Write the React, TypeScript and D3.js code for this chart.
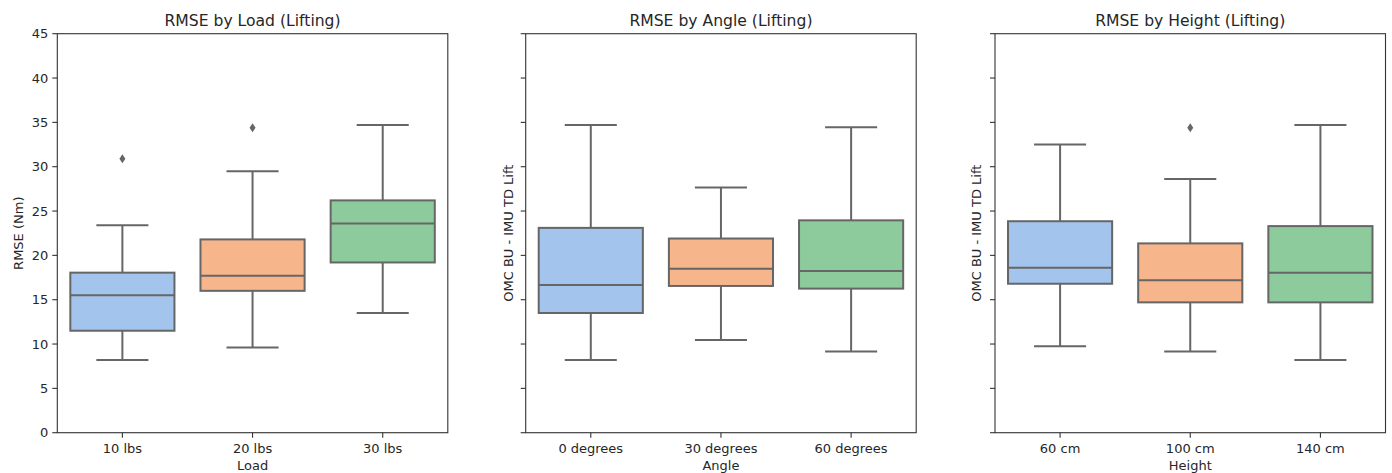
import React from "react";
import * as d3 from "d3";

const loadCategories = ["10 lbs", "20 lbs", "30 lbs"];
const loadLow = [8.2, 9.6, 13.5];
const loadQ1 = [11.5, 16.0, 19.2];
const loadMedian = [15.5, 17.7, 23.6];
const loadQ3 = [18.05, 21.8, 26.2];
const loadHigh = [23.4, 29.5, 34.7];
const loadOutliers = [[30.9], [34.4], []];

const angleCategories = ["0 degrees", "30 degrees", "60 degrees"];
const angleLow = [8.2, 10.45, 9.17];
const angleQ1 = [13.5, 16.55, 16.25];
const angleMedian = [16.65, 18.5, 18.25];
const angleQ3 = [23.1, 21.9, 23.95];
const angleHigh = [34.7, 27.65, 34.45];
const angleOutliers = [[], [], []];

const heightCategories = ["60 cm", "100 cm", "140 cm"];
const heightLow = [9.75, 9.17, 8.2];
const heightQ1 = [16.8, 14.7, 14.7];
const heightMedian = [18.6, 17.2, 18.05];
const heightQ3 = [23.85, 21.35, 23.3];
const heightHigh = [32.5, 28.6, 34.7];
const heightOutliers = [[], [34.4], []];

const yTicks = [0, 5, 10, 15, 20, 25, 30, 35, 40, 45];
const colors = ["#a3c4ec", "#f7b58c", "#8dcb9d"];
const lineColor = "#666666";
const font = "DejaVu Sans, sans-serif";

const panels = [
  {
    title: "RMSE by Load (Lifting)", xLabel: "Load", yLabel: "RMSE (Nm)", showYTickLabels: true,
    cats: loadCategories, low: loadLow, q1: loadQ1, med: loadMedian, q3: loadQ3, high: loadHigh, out: loadOutliers,
    left: 57.3, yLabelX: 23,
  },
  {
    title: "RMSE by Angle (Lifting)", xLabel: "Angle", yLabel: "OMC BU - IMU TD Lift", showYTickLabels: false,
    cats: angleCategories, low: angleLow, q1: angleQ1, med: angleMedian, q3: angleQ3, high: angleHigh, out: angleOutliers,
    left: 525.7, yLabelX: 512.5,
  },
  {
    title: "RMSE by Height (Lifting)", xLabel: "Height", yLabel: "OMC BU - IMU TD Lift", showYTickLabels: false,
    cats: heightCategories, low: heightLow, q1: heightQ1, med: heightMedian, q3: heightQ3, high: heightHigh, out: heightOutliers,
    left: 995, yLabelX: 980.7,
  },
];

const TOP = 33.7;
const BOTTOM = 432.7;
const WIDTH = 390.5;

export default function App() {
  const y = d3.scaleLinear().domain([0, 45]).range([BOTTOM, TOP]);
  return (
    <svg width={1392} height={473} style={{ position: "absolute", left: 0, top: 0, background: "#fff" }} fontFamily={font}>
      <rect x={0} y={0} width={1392} height={473} fill="#fff" />
      {panels.map((p, pi) => {
        const x = d3.scaleBand().domain(p.cats).range([p.left, p.left + WIDTH]).padding(0);
        const bw = x.bandwidth() * 0.8;
        const cx = (c: string) => (x(c) as number) + x.bandwidth() / 2;
        return (
          <g key={pi}>
            {p.cats.map((c, i) => {
              const xc = cx(c);
              const capW = bw / 2;
              return (
                <g key={c} stroke={lineColor} strokeWidth={2} fill="none">
                  <line x1={xc} x2={xc} y1={y(p.q1[i])} y2={y(p.low[i])} />
                  <line x1={xc} x2={xc} y1={y(p.q3[i])} y2={y(p.high[i])} />
                  <line x1={xc - capW / 2} x2={xc + capW / 2} y1={y(p.low[i])} y2={y(p.low[i])} />
                  <line x1={xc - capW / 2} x2={xc + capW / 2} y1={y(p.high[i])} y2={y(p.high[i])} />
                  <rect x={xc - bw / 2} width={bw} y={y(p.q3[i])} height={y(p.q1[i]) - y(p.q3[i])} fill={colors[i]} />
                  <line x1={xc - bw / 2} x2={xc + bw / 2} y1={y(p.med[i])} y2={y(p.med[i])} />
                  {p.out[i].map((v, k) => (
                    <path key={k} d={`M${xc},${y(v) - 4.5}L${xc + 3},${y(v)}L${xc},${y(v) + 4.5}L${xc - 3},${y(v)}Z`} fill={lineColor} stroke="none" />
                  ))}
                </g>
              );
            })}
            <rect x={p.left} y={TOP} width={WIDTH} height={BOTTOM - TOP} fill="none" stroke="#333" strokeWidth={1.1} />
            {yTicks.map((t) => (
              <g key={t}>
                <line x1={p.left - 5} x2={p.left} y1={y(t)} y2={y(t)} stroke="#333" strokeWidth={1.1} />
                {p.showYTickLabels && (
                  <text x={p.left - 9} y={y(t)} dy="0.36em" textAnchor="end" fontSize={13} fill="#262626">{t}</text>
                )}
              </g>
            ))}
            {p.cats.map((c) => (
              <g key={c}>
                <line x1={cx(c)} x2={cx(c)} y1={BOTTOM} y2={BOTTOM + 5} stroke="#333" strokeWidth={1.1} />
                <text x={cx(c)} y={452.7} textAnchor="middle" fontSize={13} fill="#262626">{c}</text>
              </g>
            ))}
            <text x={p.left + WIDTH / 2} y={470} textAnchor="middle" fontSize={13} fill="#262626">{p.xLabel}</text>
            <text transform={`translate(${p.yLabelX},${(TOP + BOTTOM) / 2}) rotate(-90)`} textAnchor="middle" fontSize={13} fill="#262626">{p.yLabel}</text>
            <text x={p.left + WIDTH / 2} y={26} textAnchor="middle" fontSize={15.6} fill="#262626">{p.title}</text>
          </g>
        );
      })}
    </svg>
  );
}
